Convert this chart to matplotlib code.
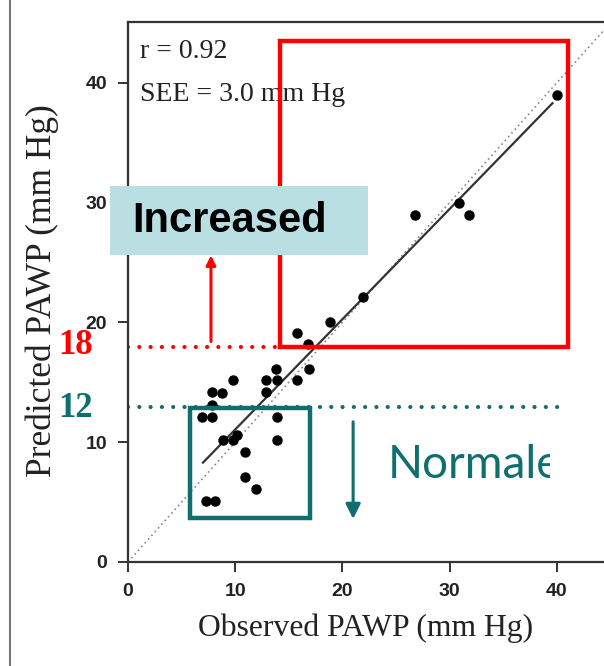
import matplotlib
matplotlib.use("Agg")
import matplotlib.pyplot as plt
from matplotlib.patches import Rectangle
from matplotlib.lines import Line2D
from matplotlib.transforms import Bbox, TransformedBbox

# ---- data ----
obs = [40.0, 26.8, 30.9, 31.8, 21.9, 18.8, 15.8, 16.8, 13.8, 16.9,
       9.8, 12.9, 13.9, 15.8, 12.9, 7.8, 8.8, 7.8, 6.9, 7.8, 13.9,
       8.9, 9.8, 10.2, 13.9, 10.9, 10.9, 11.9, 7.3, 8.1]
pred = [39.0, 29.0, 30.0, 29.0, 22.1, 20.0, 19.1, 18.2, 16.1, 16.1,
        15.2, 15.2, 15.2, 15.2, 14.2, 14.2, 14.1, 13.1, 12.1, 12.1, 12.1,
        10.2, 10.2, 10.6, 10.2, 9.2, 7.1, 6.1, 5.1, 5.1]
fit_x = [7.0, 39.6]
fit_y = [8.3, 38.3]
ident = [0, 45]
xticks = [0, 10, 20, 30, 40]
yticks = [0, 10, 20, 30, 40]
thr_high = 18
thr_low = 12
RED = "#ff0000"
TEAL = "#0f6e6e"
SERIF = "Liberation Serif"
SANS = "Liberation Sans"

fig = plt.figure(figsize=(6.04, 6.66), dpi=100)
ax = fig.add_axes([128/604, 104/666, 476/604, 540/666])
ax.set_xlim(0, 476/10.72)
ax.set_ylim(0, 540/11.98)

ax.spines["right"].set_visible(False)
for s in ["left", "bottom", "top"]:
    ax.spines[s].set_color("#333333")
    ax.spines[s].set_linewidth(1.6)

ax.set_xticks(xticks)
ax.set_yticks(yticks)
ax.tick_params(direction="out", length=7, width=1.4, color="#333333", pad=8)
for lab in ax.get_xticklabels() + ax.get_yticklabels():
    lab.set_fontfamily(SANS)
    lab.set_fontweight("bold")
    lab.set_fontsize(14)
    lab.set_color("#222222")

# identity & fit lines
ax.plot(ident, ident, linestyle=(0, (1, 2)), color="#888888", lw=1.2, zorder=2)
ax.plot(fit_x, fit_y, color="#333333", lw=1.6, zorder=2)
ax.plot(obs, pred, "o", color="black", markersize=6.5, zorder=3)

# threshold dotted lines
ax.plot([0, 41], [17.95, 17.95], linestyle=(0, (0.01, 2.7)), color=RED, lw=3,
        dash_capstyle="round", zorder=2)
ax.plot([0, 40.3], [12.94, 12.94], linestyle=(0, (0.01, 2.7)), color=TEAL, lw=3,
        dash_capstyle="round", zorder=2)

# boxes
ax.add_patch(Rectangle((14.2, 17.95), 41.0 - 14.2, 43.5 - 17.95, fill=False,
                       edgecolor=RED, lw=3.2, zorder=4))
ax.add_patch(Rectangle((5.78, 3.67), 16.98 - 5.78, 12.85 - 3.67, fill=False,
                       edgecolor=TEAL, lw=3.2, zorder=4))

# arrows
ax.annotate("", xy=(7.74, 25.6), xytext=(7.74, 18.4),
            arrowprops=dict(arrowstyle="-|>", color=RED, lw=2.2,
                            mutation_scale=14, shrinkA=0, shrinkB=0), zorder=3)
ax.annotate("", xy=(21.0, 3.6), xytext=(21.0, 11.7),
            arrowprops=dict(arrowstyle="-|>", color=TEAL, lw=2.2,
                            mutation_scale=22, shrinkA=0, shrinkB=0), zorder=3)

# Increased box
ax.add_patch(Rectangle((-1.68, 25.6), 22.4 + 1.68, 31.4 - 25.6, facecolor="#b9dfe2",
                       edgecolor="none", zorder=6, clip_on=False))
ax.text(0.37, 28.5, "Increased", family=SANS, fontweight="bold", fontsize=30,
        color="black", va="center", ha="left", zorder=7)

# Normale (clipped at the right)
t = ax.text(24.2, 8.1, "Normale", family="Lato", fontsize=33, color=TEAL,
            va="center", ha="left", zorder=5)
t.set_clip_box(TransformedBbox(Bbox([[0, 0], [39.4, 45]]), ax.transData))
t.set_clip_on(True)

# stats text
ax.text(1.12, 42.6, "r = 0.92", family=SERIF, fontsize=20, color="#222222",
        va="center", ha="left")
ax.text(1.12, 39.0, "SEE = 3.0 mm Hg", family=SERIF, fontsize=20, color="#222222",
        va="center", ha="left")

# threshold labels
ax.text(-3.3, 18.1, str(thr_high), family=SERIF, fontweight="bold", fontsize=25,
        color=RED, va="center", ha="right", clip_on=False)
ax.text(-3.3, 12.85, str(thr_low), family=SERIF, fontweight="bold", fontsize=25,
        color=TEAL, va="center", ha="right", clip_on=False)

# axis labels
fig.text(366/604, 1 - 628/666, "Observed PAWP (mm Hg)", family=SERIF, fontsize=22.8,
         color="#222222", ha="center", va="center")
fig.text(42/604, 1 - 291/666, "Predicted PAWP (mm Hg)", family=SERIF, fontsize=25.5,
         color="#222222", ha="center", va="center", rotation=90)

# outer left border line
fig.add_artist(Line2D([10/604, 10/604], [0, 1], color="#777777", lw=1.5))

fig.savefig("out.png", dpi=100)
